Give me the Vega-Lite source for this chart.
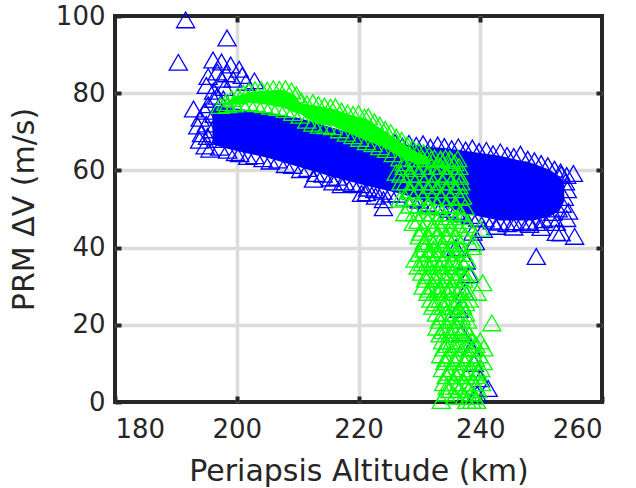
{
"$schema": "https://vega.github.io/schema/vega-lite/v6.json",
"width": 487, "height": 386,
"autosize": {"type": "none"},
"padding": {"left": 115, "top": 16, "right": 34, "bottom": 86},
"background": "white",
"config": {
  "view": {"stroke": "#262626", "strokeWidth": 4},
  "axis": {"labelFont": "DejaVu Sans", "titleFont": "DejaVu Sans", "labelColor": "#262626", "titleColor": "#262626", "labelFontSize": 26, "titleFontSize": 30, "titleFontWeight": "normal", "gridColor": "#dcdcdc", "gridWidth": 3.5, "gridOpacity": 1, "domain": false, "tickColor": "#262626", "tickWidth": 4, "tickSize": -6}
},
"datasets": {
  "blueCore": [
    {"x":196.0,"lo":66.8,"hi":76.0},{"x":198.0,"lo":65.8,"hi":76.2},{"x":200.0,"lo":65.0,"hi":76.0},{"x":205.0,"lo":63.3,"hi":75.0},{"x":210.4,"lo":60.8,"hi":73.5},{"x":215.8,"lo":58.3,"hi":71.0},{"x":221.3,"lo":56.0,"hi":68.5},{"x":226.8,"lo":54.0,"hi":66.8},{"x":229.5,"lo":52.7,"hi":66.3},{"x":234.0,"lo":50.8,"hi":65.8},{"x":237.7,"lo":48.8,"hi":65.0},{"x":243.2,"lo":47.0,"hi":63.8},{"x":248.7,"lo":47.0,"hi":61.8},{"x":251.4,"lo":48.0,"hi":60.2},{"x":253.0,"lo":49.5,"hi":58.5},{"x":253.8,"lo":52.0,"hi":57.0}
  ],
  "greenCore": [
    {"x":197.8,"lo":76.8,"hi":77.2},{"x":200.0,"lo":77.2,"hi":79.2},{"x":202.2,"lo":77.5,"hi":80.3},{"x":205.0,"lo":77.0,"hi":80.7},{"x":207.6,"lo":76.2,"hi":80.9},{"x":209.5,"lo":75.0,"hi":79.6},{"x":210.5,"lo":74.6,"hi":77.4},{"x":213.0,"lo":72.0,"hi":76.8},{"x":215.8,"lo":71.5,"hi":76.0},{"x":218.6,"lo":69.5,"hi":74.4},{"x":221.3,"lo":67.7,"hi":73.4},{"x":224.1,"lo":66.0,"hi":70.4},{"x":226.8,"lo":63.5,"hi":67.5},{"x":229.5,"lo":61.5,"hi":64.8},{"x":231.5,"lo":61.5,"hi":63.5}
  ],
  "blue": [
    {"x":191.6,"y":99.0},{"x":198.4,"y":94.3},{"x":190.4,"y":88.0},{"x":196.1,"y":88.6},{"x":197.5,"y":88.1},{"x":199.0,"y":87.3},{"x":200.4,"y":86.2},{"x":195.3,"y":84.3},{"x":197.5,"y":83.6},{"x":199.4,"y":83.6},{"x":202.9,"y":83.2},{"x":196.8,"y":85.5},{"x":198.3,"y":85.0},{"x":200.9,"y":84.6},{"x":195.0,"y":82.0},{"x":196.2,"y":80.5},{"x":198.0,"y":81.5},{"x":201.5,"y":82.8},{"x":192.9,"y":75.9},
    {"x":194.0,"y":73.5},{"x":193.6,"y":71.5},{"x":194.2,"y":69.5},{"x":193.9,"y":67.8},{"x":194.8,"y":66.3},{"x":195.6,"y":65.5},{"x":195.3,"y":77.0},{"x":196.2,"y":78.4},{"x":194.8,"y":75.3},{"x":195.0,"y":72.0},{"x":195.2,"y":68.8},{"x":196.8,"y":79.2},{"x":197.2,"y":66.0},{"x":198.5,"y":65.2},{"x":199.8,"y":64.6},{"x":197.8,"y":78.5},{"x":196.3,"y":74.5},{"x":196.0,"y":70.5},{"x":197.0,"y":68.0},
    {"x":224.5,"y":67.8},{"x":226.0,"y":67.2},{"x":227.2,"y":66.3},{"x":228.3,"y":67.0},{"x":229.5,"y":66.5},{"x":230.6,"y":66.9},{"x":231.8,"y":66.0},{"x":233.0,"y":66.6},{"x":234.1,"y":66.2},{"x":235.3,"y":65.6},{"x":236.4,"y":66.1},{"x":237.6,"y":65.3},{"x":238.7,"y":65.8},{"x":239.8,"y":64.9},{"x":241.0,"y":65.2},{"x":242.1,"y":64.3},{"x":243.3,"y":64.8},{"x":244.4,"y":63.9},{"x":245.5,"y":63.6},{"x":246.6,"y":64.2},{"x":247.8,"y":62.9},{"x":248.9,"y":62.5},{"x":250.0,"y":61.8},{"x":251.1,"y":61.2},{"x":252.2,"y":60.3},{"x":253.2,"y":59.6},{"x":254.2,"y":58.7},
    {"x":255.3,"y":59.2},{"x":253.3,"y":59.0},{"x":254.0,"y":57.0},{"x":254.3,"y":55.0},{"x":253.8,"y":53.0},{"x":253.5,"y":51.2},{"x":252.8,"y":50.0},{"x":254.5,"y":49.4},{"x":251.9,"y":49.1},{"x":254.2,"y":47.5},{"x":252.5,"y":46.5},{"x":252.5,"y":43.9},{"x":255.5,"y":42.9},{"x":253.3,"y":43.8},{"x":249.2,"y":37.7},
    {"x":200.5,"y":64.3},{"x":201.8,"y":63.6},{"x":203.0,"y":63.8},{"x":204.3,"y":63.0},{"x":205.5,"y":62.4},{"x":206.8,"y":62.7},{"x":208.0,"y":61.5},{"x":209.2,"y":61.3},{"x":210.5,"y":60.2},{"x":211.7,"y":60.5},{"x":213.0,"y":59.2},{"x":214.2,"y":59.0},{"x":215.4,"y":58.0},{"x":216.6,"y":58.2},{"x":217.8,"y":57.0},{"x":219.0,"y":56.6},{"x":220.2,"y":56.3},{"x":221.5,"y":55.4},{"x":222.7,"y":55.0},{"x":224.0,"y":54.6},{"x":225.2,"y":53.9},{"x":226.4,"y":53.8},{"x":227.6,"y":52.9},{"x":228.8,"y":52.6},{"x":230.0,"y":52.3},{"x":231.2,"y":51.5},{"x":232.4,"y":51.0},{"x":233.6,"y":50.6},{"x":234.8,"y":49.9},{"x":236.0,"y":49.4},{"x":237.2,"y":48.7},{"x":238.4,"y":48.3},{"x":239.6,"y":47.6},{"x":240.8,"y":47.4},{"x":242.0,"y":46.9},{"x":243.2,"y":46.6},{"x":244.4,"y":46.2},{"x":245.6,"y":46.7},{"x":246.8,"y":46.4},{"x":248.0,"y":46.8},{"x":249.2,"y":46.5},{"x":250.4,"y":47.2},{"x":251.6,"y":47.6},
    {"x":212.6,"y":57.7},{"x":215.8,"y":57.0},{"x":217.2,"y":56.3},{"x":220.5,"y":54.0},{"x":221.3,"y":54.2},{"x":222.8,"y":53.3},{"x":224.1,"y":50.3},{"x":224.1,"y":52.4},{"x":240.5,"y":44.7},{"x":242.6,"y":45.5},{"x":245.5,"y":45.3},{"x":248.1,"y":46.0},{"x":250.0,"y":45.2},
    {"x":236.0,"y":40.0},{"x":237.7,"y":36.5},{"x":238.2,"y":33.0},{"x":237.5,"y":28.5},{"x":236.9,"y":17.9},{"x":238.5,"y":14.0},{"x":239.0,"y":10.0},{"x":240.0,"y":6.0},{"x":239.5,"y":2.0},{"x":236.5,"y":24.0},{"x":238.8,"y":44.0},{"x":239.2,"y":41.5},{"x":241.3,"y":3.5}
  ],
  "green": [
    {"x":197.3,"y":76.8},{"x":198.2,"y":77.6},{"x":199.2,"y":78.6},{"x":200.2,"y":79.3},{"x":201.1,"y":80.0},{"x":202.0,"y":80.5},{"x":203.0,"y":80.9},{"x":204.0,"y":81.0},{"x":205.0,"y":80.8},{"x":206.0,"y":81.2},{"x":207.0,"y":81.0},{"x":208.0,"y":81.2},{"x":209.0,"y":80.6},{"x":209.8,"y":79.6},{"x":210.6,"y":78.0},{"x":211.5,"y":77.3},{"x":212.5,"y":77.6},{"x":213.4,"y":77.0},{"x":214.4,"y":76.7},{"x":215.4,"y":76.4},{"x":216.2,"y":76.5},{"x":217.2,"y":75.4},{"x":218.2,"y":74.9},{"x":219.1,"y":74.5},{"x":220.0,"y":74.7},{"x":221.0,"y":73.8},{"x":221.6,"y":73.9},{"x":222.6,"y":72.6},{"x":223.5,"y":71.7},{"x":224.4,"y":70.6},{"x":225.3,"y":69.8},{"x":226.2,"y":68.6},{"x":227.1,"y":67.8},{"x":228.0,"y":66.6},{"x":228.9,"y":65.8},{"x":229.8,"y":65.0},{"x":230.7,"y":64.6},{"x":231.6,"y":63.9},{"x":232.5,"y":63.2},{"x":233.4,"y":62.8},{"x":234.3,"y":63.2},{"x":235.2,"y":62.6},
    {"x":198.5,"y":77.0},{"x":199.6,"y":77.2},{"x":200.8,"y":77.5},{"x":202.0,"y":77.5},{"x":203.2,"y":77.3},{"x":204.4,"y":77.0},{"x":205.6,"y":76.6},{"x":206.8,"y":76.3},{"x":208.0,"y":75.8},{"x":209.2,"y":75.0},{"x":210.4,"y":74.3},{"x":211.5,"y":73.0},{"x":212.5,"y":72.2},{"x":213.6,"y":71.7},{"x":214.7,"y":71.6},{"x":215.8,"y":71.3},{"x":216.9,"y":70.5},{"x":218.0,"y":69.6},{"x":219.1,"y":69.0},{"x":220.2,"y":68.3},{"x":221.3,"y":67.4},{"x":222.4,"y":66.9},{"x":223.5,"y":66.1},{"x":224.6,"y":65.4},{"x":225.7,"y":64.3},{"x":226.8,"y":63.2},
    {"x":227.5,"y":62.0},{"x":226.2,"y":59.5},{"x":227.0,"y":57.0},{"x":226.8,"y":52.5},{"x":227.6,"y":49.0},{"x":228.5,"y":54.5},{"x":229.0,"y":46.5},{"x":230.2,"y":44.0},{"x":230.8,"y":41.5},{"x":229.5,"y":60.5},{"x":235.8,"y":62.0},{"x":236.6,"y":58.5},{"x":237.1,"y":53.3},{"x":237.0,"y":48.0},{"x":238.6,"y":40.3},{"x":240.0,"y":45.0},{"x":238.8,"y":41.2},{"x":236.5,"y":56.0},{"x":237.5,"y":50.5},{"x":238.0,"y":46.0},{"x":233.0,"y":61.0},{"x":234.5,"y":58.5},{"x":232.0,"y":56.0},{"x":233.5,"y":53.0},{"x":231.5,"y":50.5},{"x":234.0,"y":48.0},{"x":232.5,"y":45.0},{"x":235.0,"y":43.5},{"x":233.5,"y":42.0},
    {"x":229.0,"y":63.0},{"x":230.5,"y":63.0},{"x":232.0,"y":63.0},{"x":233.5,"y":63.0},{"x":235.0,"y":63.0},{"x":236.3,"y":63.0},
    {"x":227.5,"y":61.0},{"x":229.0,"y":61.0},{"x":230.5,"y":61.0},{"x":232.0,"y":61.0},{"x":233.5,"y":61.0},{"x":235.0,"y":61.0},{"x":236.5,"y":61.0},
    {"x":227.0,"y":59.0},{"x":228.5,"y":59.0},{"x":230.0,"y":59.0},{"x":231.5,"y":59.0},{"x":233.0,"y":59.0},{"x":234.5,"y":59.0},{"x":236.0,"y":59.0},
    {"x":227.8,"y":57.0},{"x":229.3,"y":57.0},{"x":230.8,"y":57.0},{"x":232.3,"y":57.0},{"x":233.8,"y":57.0},{"x":235.3,"y":57.0},{"x":236.8,"y":57.0},
    {"x":228.3,"y":55.0},{"x":229.8,"y":55.0},{"x":231.3,"y":55.0},{"x":232.8,"y":55.0},{"x":234.3,"y":55.0},{"x":235.8,"y":55.0},
    {"x":227.6,"y":53.0},{"x":229.1,"y":53.0},{"x":230.6,"y":53.0},{"x":232.1,"y":53.0},{"x":233.6,"y":53.0},{"x":235.1,"y":53.0},{"x":236.6,"y":53.0},
    {"x":228.5,"y":51.0},{"x":230.0,"y":51.0},{"x":231.5,"y":51.0},{"x":233.0,"y":51.0},{"x":234.5,"y":51.0},{"x":236.0,"y":51.0},
    {"x":229.2,"y":49.0},{"x":230.7,"y":49.0},{"x":232.2,"y":49.0},{"x":233.7,"y":49.0},{"x":235.2,"y":49.0},{"x":236.7,"y":49.0},
    {"x":229.8,"y":47.0},{"x":231.3,"y":47.0},{"x":232.8,"y":47.0},{"x":234.3,"y":47.0},{"x":235.8,"y":47.0},{"x":237.3,"y":47.0},
    {"x":230.5,"y":45.0},{"x":232.0,"y":45.0},{"x":233.5,"y":45.0},{"x":235.0,"y":45.0},{"x":236.5,"y":45.0},
    {"x":230.0,"y":43.0},{"x":231.5,"y":43.0},{"x":233.0,"y":43.0},{"x":234.5,"y":43.0},{"x":236.0,"y":43.0},{"x":237.5,"y":43.0},
    {"x":230.8,"y":41.0},{"x":232.3,"y":41.0},{"x":233.8,"y":41.0},{"x":235.3,"y":41.0},{"x":236.8,"y":41.0},
    {"x":230.8,"y":39.6},{"x":232.3,"y":39.6},{"x":233.8,"y":39.6},{"x":235.3,"y":39.6},{"x":236.8,"y":39.6},
    {"x":230.0,"y":38.5},{"x":231.5,"y":38.5},{"x":233.0,"y":38.5},{"x":234.5,"y":38.5},{"x":236.0,"y":38.5},{"x":237.3,"y":38.5},
    {"x":229.3,"y":37.0},{"x":231.0,"y":37.0},{"x":232.6,"y":37.0},{"x":234.0,"y":37.0},{"x":235.6,"y":37.0},{"x":237.8,"y":37.0},
    {"x":230.5,"y":36.1},{"x":232.1,"y":36.1},{"x":233.9,"y":36.1},{"x":235.5,"y":36.1},{"x":237.0,"y":36.1},
    {"x":229.8,"y":35.2},{"x":231.4,"y":35.2},{"x":233.2,"y":35.2},{"x":234.8,"y":35.2},{"x":236.2,"y":35.2},
    {"x":230.4,"y":33.6},{"x":232.0,"y":33.6},{"x":233.7,"y":33.6},{"x":235.4,"y":33.6},{"x":236.9,"y":33.6},{"x":238.2,"y":33.6},
    {"x":231.2,"y":32.7},{"x":232.8,"y":32.7},{"x":234.5,"y":32.7},{"x":236.1,"y":32.7},{"x":237.6,"y":32.7},
    {"x":231.0,"y":31.8},{"x":232.5,"y":31.8},{"x":234.2,"y":31.8},{"x":235.8,"y":31.8},{"x":237.3,"y":31.8},{"x":240.4,"y":30.9},
    {"x":230.6,"y":30.0},{"x":232.3,"y":30.0},{"x":233.9,"y":30.0},{"x":235.5,"y":30.0},{"x":237.0,"y":30.0},
    {"x":231.6,"y":29.2},{"x":233.2,"y":29.2},{"x":234.9,"y":29.2},{"x":236.6,"y":29.2},
    {"x":231.4,"y":28.4},{"x":233.1,"y":28.4},{"x":234.6,"y":28.4},{"x":236.3,"y":28.4},{"x":238.0,"y":28.4},{"x":239.5,"y":28.4},
    {"x":231.9,"y":26.6},{"x":233.4,"y":26.6},{"x":235.0,"y":26.6},{"x":236.6,"y":26.6},{"x":238.2,"y":26.6},
    {"x":232.6,"y":25.7},{"x":234.3,"y":25.7},{"x":235.9,"y":25.7},{"x":237.6,"y":25.7},
    {"x":232.2,"y":24.8},{"x":233.9,"y":24.8},{"x":235.6,"y":24.8},{"x":237.1,"y":24.8},
    {"x":232.8,"y":23.0},{"x":234.4,"y":23.0},{"x":236.0,"y":23.0},{"x":237.6,"y":23.0},
    {"x":233.6,"y":22.1},{"x":235.2,"y":22.1},{"x":236.9,"y":22.1},
    {"x":233.3,"y":21.2},{"x":234.9,"y":21.2},{"x":236.3,"y":21.2},{"x":237.9,"y":21.2},{"x":241.9,"y":20.5},
    {"x":232.9,"y":19.4},{"x":234.6,"y":19.4},{"x":236.2,"y":19.4},{"x":237.4,"y":19.4},
    {"x":233.9,"y":18.5},{"x":235.6,"y":18.5},{"x":237.1,"y":18.5},
    {"x":233.4,"y":17.6},{"x":235.0,"y":17.6},{"x":236.7,"y":17.6},{"x":238.2,"y":17.6},
    {"x":233.8,"y":15.8},{"x":235.4,"y":15.8},{"x":237.0,"y":15.8},{"x":238.6,"y":15.8},{"x":240.0,"y":15.8},
    {"x":234.6,"y":14.9},{"x":236.3,"y":14.9},{"x":237.9,"y":14.9},{"x":239.3,"y":14.9},
    {"x":234.0,"y":14.0},{"x":235.6,"y":14.0},{"x":237.2,"y":14.0},{"x":238.8,"y":14.0},{"x":240.6,"y":14.0},
    {"x":233.5,"y":12.2},{"x":235.1,"y":12.2},{"x":236.7,"y":12.2},{"x":238.3,"y":12.2},{"x":239.8,"y":12.2},
    {"x":234.4,"y":11.3},{"x":236.0,"y":11.3},{"x":237.6,"y":11.3},{"x":239.2,"y":11.3},
    {"x":234.2,"y":10.4},{"x":235.8,"y":10.4},{"x":237.4,"y":10.4},{"x":239.0,"y":10.4},{"x":240.5,"y":10.4},
    {"x":233.8,"y":8.6},{"x":235.4,"y":8.6},{"x":237.0,"y":8.6},{"x":238.5,"y":8.6},{"x":240.1,"y":8.6},
    {"x":234.8,"y":7.7},{"x":236.4,"y":7.7},{"x":238.0,"y":7.7},{"x":239.6,"y":7.7},
    {"x":234.4,"y":6.8},{"x":236.0,"y":6.8},{"x":237.6,"y":6.8},{"x":239.2,"y":6.8},
    {"x":234.0,"y":5.0},{"x":235.6,"y":5.0},{"x":237.3,"y":5.0},{"x":238.8,"y":5.0},{"x":240.2,"y":5.0},
    {"x":234.6,"y":4.1},{"x":236.2,"y":4.1},{"x":237.8,"y":4.1},{"x":239.3,"y":4.1},
    {"x":235.0,"y":3.2},{"x":236.6,"y":3.2},{"x":238.2,"y":3.2},{"x":239.6,"y":3.2},
    {"x":234.3,"y":2.3},{"x":238.6,"y":2.3},
    {"x":235.8,"y":1.5},{"x":237.4,"y":1.5},{"x":239.0,"y":1.5},
    {"x":233.6,"y":0.4},{"x":237.8,"y":0.4},{"x":238.6,"y":0.4},{"x":239.4,"y":0.4}
  ]
},
"resolve": {"axis": {"x": "independent", "y": "independent"}},
"layer": [
  {
    "data": {"name": "blueCore"},
    "mark": {"type": "area", "color": "#0000ff", "opacity": 1},
    "encoding": {
      "x": {"field": "x", "type": "quantitative", "scale": {"domain": [180, 260], "nice": false, "zero": false},
            "axis": {"orient": "top", "values": [200, 220, 240], "labels": false, "title": null, "grid": true}},
      "y": {"field": "lo", "type": "quantitative", "scale": {"domain": [0, 100], "nice": false, "zero": false},
            "axis": {"orient": "right", "values": [20, 40, 60, 80], "labels": false, "title": null, "grid": true}},
      "y2": {"field": "hi"}
    }
  },
  {
    "data": {"name": "blue"},
    "mark": {"type": "point", "shape": "triangle-up", "filled": false, "color": "#0000ff", "size": 330, "strokeWidth": 1.3, "opacity": 1},
    "encoding": {
      "x": {"field": "x", "type": "quantitative", "axis": null},
      "y": {"field": "y", "type": "quantitative", "axis": null}
    }
  },
  {
    "data": {"name": "greenCore"},
    "mark": {"type": "area", "color": "#00ff00", "opacity": 1},
    "encoding": {
      "x": {"field": "x", "type": "quantitative", "axis": null},
      "y": {"field": "lo", "type": "quantitative", "axis": null},
      "y2": {"field": "hi"}
    }
  },
  {
    "data": {"name": "green"},
    "mark": {"type": "point", "shape": "triangle-up", "filled": false, "color": "#00ff00", "size": 330, "strokeWidth": 1.3, "opacity": 1},
    "encoding": {
      "x": {"field": "x", "type": "quantitative",
            "axis": {"orient": "bottom", "values": [180, 200, 220, 240, 260], "title": "Periapsis Altitude (km)", "grid": false, "labelPadding": 20, "titlePadding": 14}},
      "y": {"field": "y", "type": "quantitative",
            "axis": {"orient": "left", "values": [0, 20, 40, 60, 80, 100], "title": "PRM ΔV (m/s)", "grid": false, "labelPadding": 16, "titlePadding": 16}}
    }
  }
]
}
